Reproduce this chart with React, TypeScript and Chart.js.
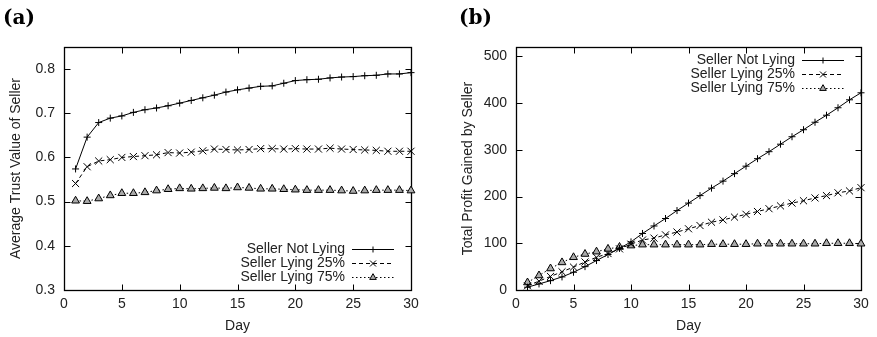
import React, { useEffect, useRef } from 'react';
import { Chart, registerables } from 'chart.js';

Chart.register(...registerables);

// ---------- data ----------
const days = [1, 2, 3, 4, 5, 6, 7, 8, 9, 10, 11, 12, 13, 14, 15, 16, 17, 18, 19, 20, 21, 22, 23, 24, 25, 26, 27, 28, 29, 30];

const seriesLabels = ['Seller Not Lying', 'Seller Lying 25%', 'Seller Lying 75%'];

// (a) Average trust value of seller
const trustNotLying = [0.574, 0.646, 0.679, 0.689, 0.694, 0.702, 0.708, 0.712, 0.717, 0.723, 0.729, 0.735, 0.741, 0.748, 0.753, 0.757, 0.761, 0.762, 0.768, 0.774, 0.776, 0.777, 0.780, 0.782, 0.783, 0.785, 0.786, 0.789, 0.789, 0.792];
const trustLying25 = [0.541, 0.579, 0.592, 0.595, 0.600, 0.602, 0.604, 0.606, 0.611, 0.610, 0.612, 0.615, 0.619, 0.618, 0.617, 0.618, 0.620, 0.620, 0.619, 0.620, 0.619, 0.619, 0.621, 0.619, 0.618, 0.617, 0.616, 0.614, 0.614, 0.614];
const trustLying75 = [0.502, 0.501, 0.507, 0.514, 0.519, 0.519, 0.521, 0.525, 0.528, 0.530, 0.529, 0.530, 0.531, 0.530, 0.532, 0.531, 0.529, 0.529, 0.528, 0.527, 0.526, 0.526, 0.526, 0.525, 0.524, 0.525, 0.526, 0.526, 0.526, 0.525];

// (b) Total profit gained by seller
const profitNotLying = [6, 13, 20, 28, 38, 50, 63, 76, 89, 103, 121, 137, 153, 170, 186, 202, 218, 233, 249, 265, 281, 296, 312, 328, 343, 359, 374, 390, 407, 422];
const profitLying25 = [9, 19, 29, 39, 49, 60, 70, 78, 88, 98, 107, 111, 118, 124, 131, 138, 145, 150, 156, 162, 168, 174, 180, 186, 191, 197, 202, 208, 212, 219];
const profitLying75 = [16, 31, 46, 59, 70, 77, 82, 88, 92, 95, 97, 97, 97, 97, 97, 97, 98, 98, 98, 98, 99, 99, 99, 99, 99, 99, 100, 100, 100, 99];

const xTicksStep = 5;
const trustRange = [0.3, 0.85];
const profitRange = [0, 520];

// ---------- styling ----------
const TEXT = '#222';
const FONT_FAMILY = '"Liberation Sans", Arial, Helvetica, sans-serif';
const DASHES = [[], [4, 3], [1.5, 2.5]];
const STYLES = ['cross', 'crossRot', 'triangle'];
const RADII = [3.5, 5, 4.5];
const FILLS = ['#000', '#000', '#aaa'];

function drawMarker(ctx: CanvasRenderingContext2D, style: string, x: number, y: number, r: number, fill: string) {
  ctx.save();
  ctx.setLineDash([]);
  ctx.lineWidth = 1;
  ctx.strokeStyle = '#000';
  ctx.fillStyle = fill;
  ctx.beginPath();
  if (style === 'cross') {
    ctx.moveTo(x - r, y); ctx.lineTo(x + r, y);
    ctx.moveTo(x, y - r); ctx.lineTo(x, y + r);
    ctx.stroke();
  } else if (style === 'crossRot') {
    const d = r * Math.SQRT1_2;
    ctx.moveTo(x - d, y - d); ctx.lineTo(x + d, y + d);
    ctx.moveTo(x - d, y + d); ctx.lineTo(x + d, y - d);
    ctx.stroke();
  } else {
    ctx.moveTo(x, y - r);
    ctx.lineTo(x + 0.866 * r, y + 0.5 * r);
    ctx.lineTo(x - 0.866 * r, y + 0.5 * r);
    ctx.closePath();
    ctx.fill();
    ctx.stroke();
  }
  ctx.restore();
}

const framePlugin = {
  id: 'gnuFrame',
  beforeDatasetsDraw(chart: any) {
    const { ctx, chartArea } = chart;
    const L = Math.round(chartArea.left) + 0.5;
    const R = Math.round(chartArea.right) + 0.5;
    const T = Math.round(chartArea.top) + 0.5;
    const B = Math.round(chartArea.bottom) + 0.5;
    ctx.save();
    ctx.strokeStyle = '#000';
    ctx.lineWidth = 1.3;
    ctx.setLineDash([]);
    ctx.strokeRect(L, T, R - L, B - T);
    const tl = 6;
    ctx.lineWidth = 1;
    ctx.beginPath();
    const xs = chart.scales.x;
    xs.ticks.forEach((t: any) => {
      const px = Math.round(xs.getPixelForValue(t.value)) + 0.5;
      ctx.moveTo(px, B); ctx.lineTo(px, B - tl);
      ctx.moveTo(px, T); ctx.lineTo(px, T + tl);
    });
    const ys = chart.scales.y;
    ys.ticks.forEach((t: any) => {
      const py = Math.round(ys.getPixelForValue(t.value)) + 0.5;
      ctx.moveTo(L, py); ctx.lineTo(L + tl, py);
      ctx.moveTo(R, py); ctx.lineTo(R - tl, py);
    });
    ctx.stroke();
    ctx.restore();
  },
  afterDraw(chart: any, _args: any, opts: any) {
    const { ctx, chartArea } = chart;
    ctx.save();
    // panel label
    ctx.fillStyle = '#000';
    ctx.font = 'bold 20px "DejaVu Serif", serif';
    ctx.textAlign = 'left';
    ctx.textBaseline = 'alphabetic';
    ctx.fillText(opts.panel, opts.panelX, 24);
    // legend
    const right = chartArea.right;
    ctx.font = '14px ' + FONT_FAMILY;
    ctx.textAlign = 'right';
    ctx.textBaseline = 'middle';
    chart.data.datasets.forEach((ds: any, i: number) => {
      const y = opts.legendTop
        ? chartArea.top + 13 + i * 14
        : chartArea.bottom - 41 + i * 14;
      ctx.fillStyle = TEXT;
      ctx.fillText(ds.label, right - 66, y);
      ctx.strokeStyle = '#000';
      ctx.lineWidth = 1;
      ctx.setLineDash(ds.borderDash || []);
      ctx.beginPath();
      ctx.moveTo(right - 59, Math.round(y) + 0.5);
      ctx.lineTo(right - 17, Math.round(y) + 0.5);
      ctx.stroke();
      drawMarker(ctx, ds.pointStyle, right - 38, Math.round(y) + 0.5, ds.pointRadius * 0.85, ds.pointBackgroundColor);
    });
    ctx.restore();
  },
};

function makeDatasets(values: number[][]) {
  return values.map((vals, i) => ({
    label: seriesLabels[i],
    data: vals.map((v, j) => ({ x: days[j], y: v })),
    borderColor: '#000',
    borderWidth: 1,
    borderDash: DASHES[i],
    pointStyle: STYLES[i],
    pointRadius: RADII[i],
    pointBorderColor: '#000',
    pointBackgroundColor: FILLS[i],
    pointBorderWidth: 1,
    tension: 0,
    clip: false,
  }));
}

type PanelProps = {
  width: number;
  left: number;
  values: number[][];
  yRange: number[];
  yStep: number;
  yTitle: string;
  yDecimals: number;
  yAxisWidth: number;
  yTickPad: number;
  yTitlePad: number;
  rightPad: number;
  panel: string;
  panelX: number;
  legendTop: boolean;
};

function Panel(p: PanelProps) {
  const ref = useRef<HTMLCanvasElement | null>(null);
  useEffect(() => {
    if (!ref.current) return;
    const chart = new Chart(ref.current, {
      type: 'line',
      data: { datasets: makeDatasets(p.values) as any },
      plugins: [framePlugin as any],
      options: {
        animation: false,
        responsive: false,
        devicePixelRatio: 1,
        layout: { padding: { left: 0, top: 47, right: p.rightPad, bottom: 0 } },
        plugins: {
          legend: { display: false },
          tooltip: { enabled: false },
          gnuFrame: { panel: p.panel, panelX: p.panelX, legendTop: p.legendTop },
        } as any,
        scales: {
          x: {
            type: 'linear',
            min: 0,
            max: 30,
            grid: { display: false, drawTicks: false, tickLength: 0 },
            border: { display: false },
            ticks: {
              stepSize: xTicksStep,
              padding: 6,
              color: TEXT,
              font: { family: FONT_FAMILY, size: 14 },
              maxRotation: 0,
              includeBounds: false,
            },
            title: {
              display: true,
              text: 'Day',
              color: TEXT,
              font: { family: FONT_FAMILY, size: 14 },
              padding: { top: 0, bottom: 2.6 },
            },
            afterFit: (s: any) => { s.height = 47; },
          },
          y: {
            type: 'linear',
            min: p.yRange[0],
            max: p.yRange[1],
            grid: { display: false, drawTicks: false, tickLength: 0 },
            border: { display: false },
            ticks: {
              stepSize: p.yStep,
              padding: p.yTickPad,
              color: TEXT,
              font: { family: FONT_FAMILY, size: 14 },
              includeBounds: false,
              callback: (v: any) => Number(v).toFixed(p.yDecimals),
            },
            title: {
              display: true,
              text: p.yTitle,
              color: TEXT,
              font: { family: FONT_FAMILY, size: 14 },
              padding: { top: p.yTitlePad, bottom: 0 },
            },
            afterFit: (s: any) => { s.width = p.yAxisWidth; },
          },
        },
      } as any,
    });
    return () => chart.destroy();
  }, []);
  return (
    <canvas
      ref={ref}
      width={p.width}
      height={337}
      style={{ position: 'absolute', left: p.left, top: 0, width: p.width, height: 337 }}
    />
  );
}

export default function App() {
  return (
    <div style={{ position: 'fixed', left: 0, top: 0, width: 877, height: 337, background: '#fff' }}>
      <Panel
        width={437}
        left={0}
        values={[trustNotLying, trustLying25, trustLying75]}
        yRange={trustRange}
        yStep={0.1}
        yTitle="Average Trust Value of Seller"
        yDecimals={1}
        yAxisWidth={64}
        yTickPad={9}
        yTitlePad={8}
        rightPad={26}
        panel="(a)"
        panelX={3}
        legendTop={false}
      />
      <Panel
        width={440}
        left={437}
        values={[profitNotLying, profitLying25, profitLying75]}
        yRange={profitRange}
        yStep={100}
        yTitle="Total Profit Gained by Seller"
        yDecimals={0}
        yAxisWidth={79}
        yTickPad={9}
        yTitlePad={22.6}
        rightPad={16}
        panel="(b)"
        panelX={22}
        legendTop={true}
      />
    </div>
  );
}
